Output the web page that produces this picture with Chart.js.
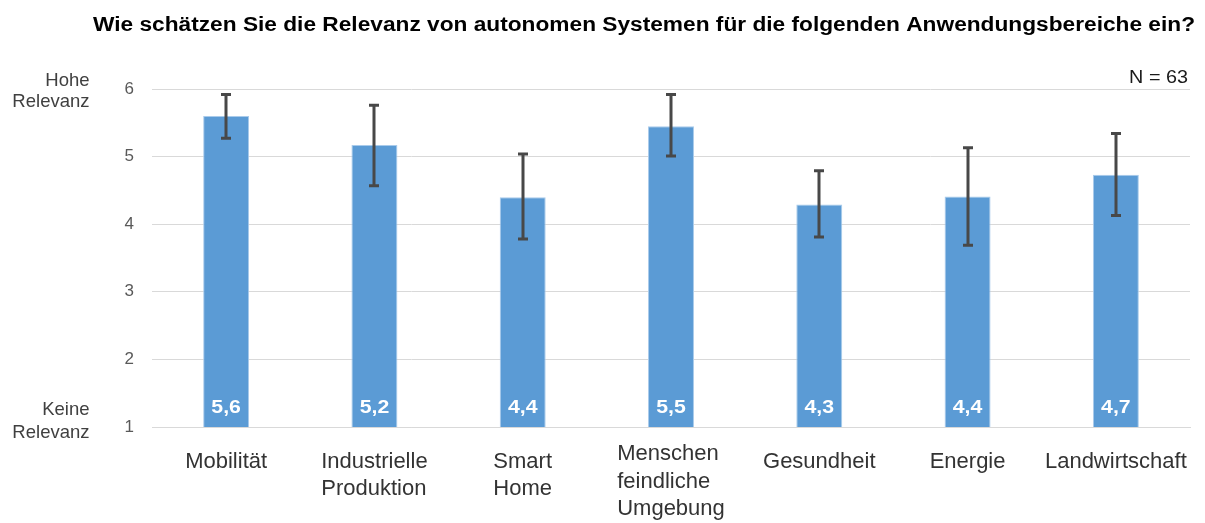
<!DOCTYPE html>
<html>
<head>
<meta charset="utf-8">
<script src="https://cdn.jsdelivr.net/npm/chart.js@4.4.1/dist/chart.umd.min.js"></script>
<style>
  html, body { margin: 0; padding: 0; background: #ffffff; }
  #wrap { width: 1205px; height: 523px; position: relative; }
</style>
</head>
<body>
<div id="wrap"><canvas id="c" width="1205" height="523"></canvas></div>
<script>
const categories = [
  ["Mobilität"],
  ["Industrielle", "Produktion"],
  ["Smart", "Home"],
  ["Menschen", "feindliche", "Umgebung"],
  ["Gesundheit"],
  ["Energie"],
  ["Landwirtschaft"]
];
const means = [5.6, 5.17, 4.4, 5.45, 4.29, 4.41, 4.73];
const meanLabels = ["5,6", "5,2", "4,4", "5,5", "4,3", "4,4", "4,7"];
const errUpper = [5.92, 5.76, 5.04, 5.92, 4.79, 5.13, 5.34];
const errLower = [5.27, 4.57, 3.78, 5.01, 3.81, 3.69, 4.13];
const yTicks = [1, 2, 3, 4, 5, 6];
const titleText = "Wie schätzen Sie die Relevanz von autonomen Systemen für die folgenden Anwendungsbereiche ein?";
const noteText = "N = 63";
const topSideLabel = ["Hohe", "Relevanz"];
const bottomSideLabel = ["Keine", "Relevanz"];

const FONT = "'Liberation Sans', Arial, sans-serif";

function stretchText(ctx, text, x, y, sx, align) {
  ctx.save();
  ctx.translate(x, y);
  ctx.scale(sx, 1);
  ctx.textAlign = align;
  ctx.fillText(text, 0, 0);
  ctx.restore();
}

const extrasPlugin = {
  id: 'extras',
  afterDatasetsDraw(chart) {
    const ctx = chart.ctx;
    const x = chart.scales.x, y = chart.scales.y;
    const meta = chart.getDatasetMeta(0);
    ctx.save();
    // error bars
    ctx.strokeStyle = '#484848';
    ctx.lineWidth = 3;
    meta.data.forEach((bar, i) => {
      const cx = Math.round(bar.x);
      const yu = y.getPixelForValue(errUpper[i]);
      const yl = y.getPixelForValue(errLower[i]);
      ctx.beginPath();
      ctx.moveTo(cx, yu); ctx.lineTo(cx, yl);
      ctx.moveTo(cx - 5, yu); ctx.lineTo(cx + 5, yu);
      ctx.moveTo(cx - 5, yl); ctx.lineTo(cx + 5, yl);
      ctx.stroke();
    });
    // value labels
    ctx.fillStyle = '#ffffff';
    ctx.font = "bold 19px " + FONT;
    ctx.textBaseline = 'alphabetic';
    const base = y.getPixelForValue(1);
    meta.data.forEach((bar, i) => {
      stretchText(ctx, meanLabels[i], bar.x, base - 14.5, 1.12, 'center');
    });
    // category labels: left-aligned lines, block centred under each bar
    ctx.fillStyle = '#333333';
    ctx.font = "22px " + FONT;
    const lineH = 27.5;
    const maxBottom = 521;
    categories.forEach((lines, i) => {
      const cx = x.getPixelForValue(i);
      const w = Math.max(...lines.map(l => ctx.measureText(l).width));
      const left = cx - w / 2;
      let first = base + 40.5;
      const last = first + (lines.length - 1) * lineH;
      if (last > maxBottom - 6) first -= (last - (maxBottom - 6));
      lines.forEach((l, j) => {
        ctx.textAlign = 'left';
        ctx.fillText(l, left, first + j * lineH);
      });
    });
    ctx.restore();
  },
  afterDraw(chart) {
    const ctx = chart.ctx;
    const y = chart.scales.y;
    ctx.save();
    ctx.textBaseline = 'alphabetic';
    // title stretched to reference extent
    ctx.fillStyle = '#000000';
    ctx.font = "bold 20px " + FONT;
    const tw = ctx.measureText(titleText).width;
    stretchText(ctx, titleText, 93, 31, 1102 / tw, 'left');
    // N note
    ctx.fillStyle = '#1a1a1a';
    ctx.font = "18px " + FONT;
    stretchText(ctx, noteText, 1188, 83, 1.1, 'right');
    // side labels
    ctx.fillStyle = '#404040';
    ctx.font = "18.5px " + FONT;
    const yTop = y.getPixelForValue(6);
    const yBot = y.getPixelForValue(1);
    ctx.textAlign = 'right';
    ctx.fillText(topSideLabel[0], 89.5, yTop - 3);
    ctx.fillText(topSideLabel[1], 89.5, yTop + 17.5);
    ctx.fillText(bottomSideLabel[0], 89.5, yBot - 12);
    ctx.fillText(bottomSideLabel[1], 89.5, yBot + 10.5);
    ctx.restore();
  }
};

new Chart(document.getElementById('c'), {
  type: 'bar',
  data: {
    labels: categories,
    datasets: [{
      data: means,
      backgroundColor: '#5B9BD5',
      borderColor: '#A9CBEB',
      borderWidth: 1,
      barPercentage: 0.31,
      categoryPercentage: 1.0
    }]
  },
  options: {
    responsive: false,
    animation: false,
    devicePixelRatio: 1,
    layout: { padding: { top: 89, right: 15, bottom: 0, left: 0 } },
    plugins: { legend: { display: false }, tooltip: { enabled: false }, title: { display: false } },
    scales: {
      x: {
        grid: { display: false, drawTicks: false },
        border: { display: true, color: '#d9d9d9', width: 1 },
        ticks: { display: false },
        afterFit(s) { s.height = 96; }
      },
      y: {
        min: 1, max: 6,
        afterBuildTicks(s) { s.ticks = yTicks.map(v => ({ value: v })); },
        grid: { color: '#d9d9d9', lineWidth: 1, drawTicks: false },
        border: { display: false },
        ticks: {
          color: '#595959',
          font: { family: FONT, size: 17 },
          padding: 18
        },
        afterFit(s) { s.width = 152; }
      }
    }
  },
  plugins: [extrasPlugin]
});
</script>
</body>
</html>
